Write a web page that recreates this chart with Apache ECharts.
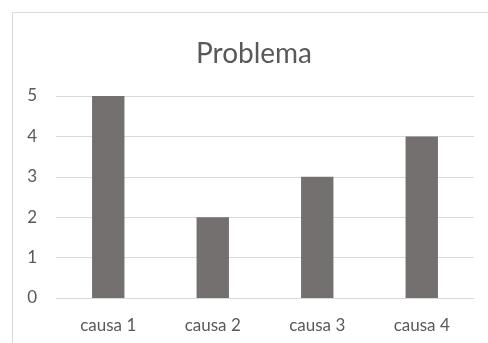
<!DOCTYPE html>
<html>
<head>
<meta charset="utf-8">
<script src="https://cdn.jsdelivr.net/npm/echarts@6/dist/echarts.min.js"></script>
<style>
  html, body { margin: 0; padding: 0; background: #fff; }
  #main { width: 488px; height: 343px; }
</style>
</head>
<body>
<div id="main"></div>
<script>
var categories = ['causa 1', 'causa 2', 'causa 3', 'causa 4'];
var values = [5, 2, 3, 4];
var titleText = 'Problema';

var chart = echarts.init(document.getElementById('main'));
var font = 'Lato, "Open Sans", sans-serif';

chart.setOption({
    animation: false,
    title: {
        text: titleText,
        left: 249,
        top: 35,
        textAlign: 'center',
        textStyle: {
            fontFamily: font,
            fontSize: 28,
            fontWeight: 'normal',
            color: '#595959'
        }
    },
    graphic: [{
        type: 'rect',
        shape: { x: 12.5, y: 12.5, width: 520, height: 360 },
        style: { fill: 'none', stroke: '#d9d9d9', lineWidth: 1 },
        silent: true
    }],
    grid: { left: 56, right: 14, top: 96, bottom: 45 },
    xAxis: {
        type: 'category',
        data: categories,
        axisLine: { show: true, lineStyle: { color: '#d9d9d9' } },
        axisTick: { show: false },
        axisLabel: {
            color: '#595959',
            fontFamily: font,
            fontSize: 17,
            margin: 19
        }
    },
    yAxis: {
        type: 'value',
        min: 0,
        max: 5,
        interval: 1,
        axisLine: { show: false },
        axisTick: { show: false },
        splitLine: { lineStyle: { color: '#d9d9d9' } },
        axisLabel: {
            color: '#595959',
            fontFamily: font,
            fontSize: 17,
            margin: 19
        }
    },
    series: [{
        type: 'bar',
        data: values,
        barWidth: '31%',
        itemStyle: { color: '#757070' }
    }]
});
</script>
</body>
</html>
